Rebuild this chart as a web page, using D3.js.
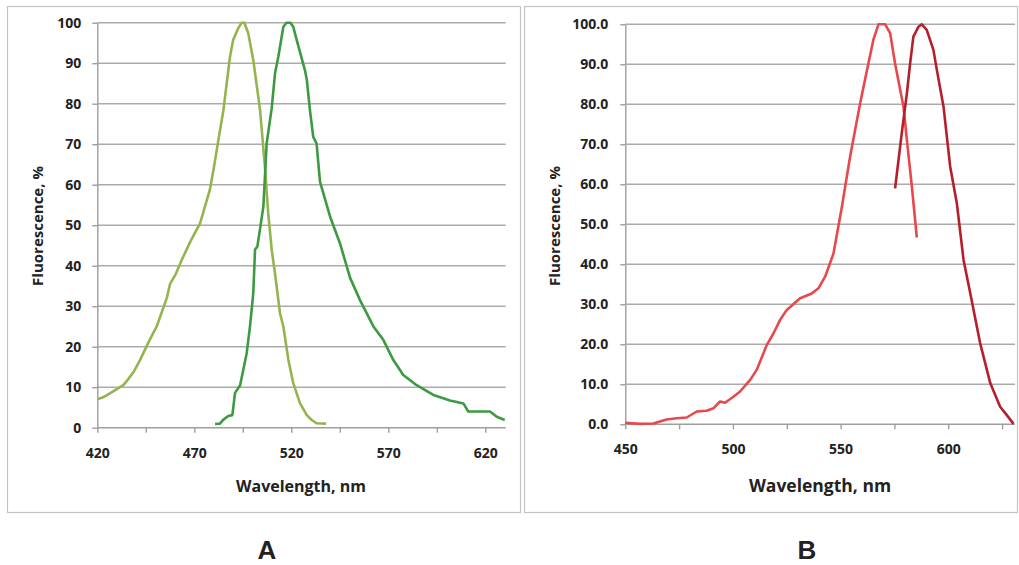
<!DOCTYPE html>
<html>
<head>
<meta charset="utf-8">
<script src="https://cdn.jsdelivr.net/npm/d3@7"></script>
<style>
  body { margin: 0; background: #fff; }
  text { font-family: "Open Sans", sans-serif; fill: #222; }
</style>
</head>
<body>
<script>
// panel A: excitation / emission, green
var aExcitation = [
  [420, 7], [423, 7.5], [426.5, 8.5], [430, 9.5], [433.4, 10.5], [436, 12], [439, 14], [442, 16.7],
  [446.3, 21], [450.6, 25], [455.8, 32], [457.5, 35.5], [460.5, 38], [463.5, 41.4], [468, 46],
  [473, 50.5], [478, 58.7], [480, 64], [482.4, 71], [485, 78.4], [488.4, 91.6], [490, 95.7],
  [492.5, 98.5], [494.4, 100], [495.8, 100], [497.8, 97.4], [500.4, 90.8], [503.9, 78.4],
  [506.4, 64.4], [508.1, 52.9], [509.9, 43.9], [511.6, 38], [514.2, 28.2], [515.9, 25],
  [518.5, 16.7], [521, 11], [524.5, 6], [528, 3.1], [530.5, 1.9], [533, 1.1], [537.9, 1]
];
var aEmission = [
  [480.7, 0.9], [483.2, 1], [485, 2], [487.5, 2.9], [489.6, 3.1], [491, 8.6], [493.6, 10.5],
  [497, 18.4], [498.7, 25], [500.4, 33.2], [501.3, 44], [502.5, 44.7], [505.6, 54.6],
  [507.3, 70.2], [509.9, 78.9], [511.6, 87.5], [513.3, 91.6], [515.9, 99], [517.5, 100],
  [519.5, 100], [521, 99], [522.8, 95.7], [527, 88.3], [528, 85.9], [529.6, 78.4], [531.3, 71.8],
  [533, 70.2], [534.8, 60.7], [540, 52.1], [545.1, 45.5], [550.3, 37], [555.4, 31.5],
  [562.3, 25], [567.4, 21.7], [572.6, 16.7], [577.7, 13], [584.6, 10.5], [593.2, 8.1],
  [601.8, 6.7], [608.7, 6], [611.2, 4], [622.4, 4], [625.9, 2.7], [630, 1.9]
];
// panel B: excitation / emission, red
var bExcitation = [
  [450, 0.4], [456.8, 0.1], [463, 0.2], [469.2, 1.2], [473.9, 1.5], [478.5, 1.7], [483.2, 3.2],
  [487.8, 3.4], [490.9, 4], [494, 5.7], [496.3, 5.4], [500.2, 6.9], [503.3, 8.2], [508, 11.1],
  [511, 13.6], [515.7, 19.8], [518.8, 22.7], [521.9, 26.1], [525, 28.6], [531.2, 31.5],
  [536.6, 32.7], [539.7, 34], [542.8, 36.9], [546.7, 42.7], [550.6, 54.4], [554.4, 66.9],
  [559.1, 80.3], [562.9, 90.2], [565.2, 96.1], [567.6, 100], [570.7, 100], [573, 97.8],
  [575.3, 90.2], [577.7, 83.6], [579.2, 79.4], [580.8, 71], [583.1, 59.4], [585.4, 46.7]
];
var bEmission = [
  [575.3, 59], [576.9, 66.1], [578.4, 72.8], [580.8, 82.8], [582.3, 90.3], [583.8, 96.9],
  [586.2, 99.4], [587.7, 100], [590, 98.6], [593.1, 93.6], [594.7, 88.6], [597.8, 79.4],
  [600.9, 64.4], [604, 55.2], [607.1, 41.1], [610.2, 32.8], [614.8, 20.3], [619.5, 10.3],
  [624.1, 4.4], [627.2, 2.3], [630.3, 0.1]
];
var yTicks = [0, 10, 20, 30, 40, 50, 60, 70, 80, 90, 100];
var aXTicks = [420, 445, 470, 495, 520, 545, 570, 595, 620];
var aXLabels = [420, 470, 520, 570, 620];
var bXTicks = [450, 475, 500, 525, 550, 575, 600, 625];
var bXLabels = [450, 500, 550, 600];

var svg = d3.select("body").append("svg").attr("width", 1019).attr("height", 565);

function panel(o) {
  var g = svg.append("g");
  g.append("rect")
    .attr("x", o.box[0] + 0.5).attr("y", 6.5)
    .attr("width", o.box[1] - o.box[0]).attr("height", 506)
    .attr("fill", "none").attr("stroke", "#c4c4c4").attr("stroke-width", 1.2);

  var x = d3.scaleLinear().domain(o.xDomain).range(o.xRange);
  var y = d3.scaleLinear().domain([0, 100]).range(o.yRange);

  // gridlines
  g.append("g").selectAll("line")
    .data(yTicks.slice(1))
    .enter().append("line")
    .attr("x1", o.xRange[0]).attr("x2", o.xRange[1])
    .attr("y1", function(d) { return y(d); }).attr("y2", function(d) { return y(d); })
    .attr("stroke", "#ababab").attr("stroke-width", 1.4);

  var axisx = d3.axisBottom(x).tickValues(o.xTicks).tickSize(5).tickSizeOuter(0).tickPadding(15)
    .tickFormat(function(d) { return o.xLabels.indexOf(d) >= 0 ? d : ""; });
  var gx = g.append("g")
    .attr("transform", "translate(0," + o.yRange[0] + ")")
    .call(axisx);
  gx.select(".domain").attr("d", "M" + o.xRange[0] + ",0H" + o.xRange[1]);

  var axisy = d3.axisLeft(y).tickValues(yTicks).tickSize(5).tickSizeOuter(0).tickPadding(o.yPad)
    .tickFormat(d3.format(o.yFmt));
  var gy = g.append("g")
    .attr("transform", "translate(" + o.xRange[0] + ",0)")
    .call(axisy);

  g.selectAll(".domain, .tick line").attr("stroke", "#9e9e9e").attr("stroke-width", 1.4);
  g.selectAll(".tick text")
    .style("font-family", "'Open Sans', sans-serif")
    .style("font-size", "14px").style("font-weight", 700).attr("fill", "#222");

  var line = d3.line()
    .x(function(d) { return x(d[0]); })
    .y(function(d) { return y(d[1]); });
  o.series.forEach(function(s) {
    g.append("path")
      .datum(s.data)
      .attr("d", line)
      .attr("fill", "none")
      .attr("stroke", s.color)
      .attr("stroke-width", 2.6)
      .attr("stroke-linejoin", "round");
  });

  g.append("text")
    .attr("x", o.titleX).attr("y", 492)
    .attr("text-anchor", "middle")
    .style("font-size", o.titleSize + "px").style("font-weight", 700)
    .text("Wavelength, nm");
  g.append("text")
    .attr("transform", "translate(" + o.yTitleX + ",226) rotate(-90)")
    .attr("text-anchor", "middle")
    .style("font-size", "15px").style("font-weight", 700)
    .text("Fluorescence, %");
  g.append("text")
    .attr("x", o.letterX).attr("y", 558.5)
    .attr("text-anchor", "middle")
    .style("font-family", "'Liberation Sans', Arial, sans-serif")
    .style("font-size", "26px").style("font-weight", 700).attr("fill", "#000")
    .text(o.letter);
}

panel({
  box: [7, 520], xDomain: [420, 630.5], xRange: [97.3, 505.7], yRange: [427.7, 22.7],
  xTicks: aXTicks, xLabels: aXLabels, yFmt: "d", yPad: 11,
  titleX: 301, titleSize: 16, yTitleX: 43, letter: "A", letterX: 267,
  series: [
    { data: aExcitation, color: "#93b44f" },
    { data: aEmission, color: "#3e9a42" }
  ]
});
panel({
  box: [524, 1017], xDomain: [450, 631], xRange: [625.3, 1015], yRange: [424.3, 24.3],
  xTicks: bXTicks, xLabels: bXLabels, yFmt: ".1f", yPad: 12,
  titleX: 820, titleSize: 17.5, yTitleX: 560, letter: "B", letterX: 807,
  series: [
    { data: bExcitation, color: "#e8484c" },
    { data: bEmission, color: "#b51f2c" }
  ]
});
</script>
</body>
</html>
